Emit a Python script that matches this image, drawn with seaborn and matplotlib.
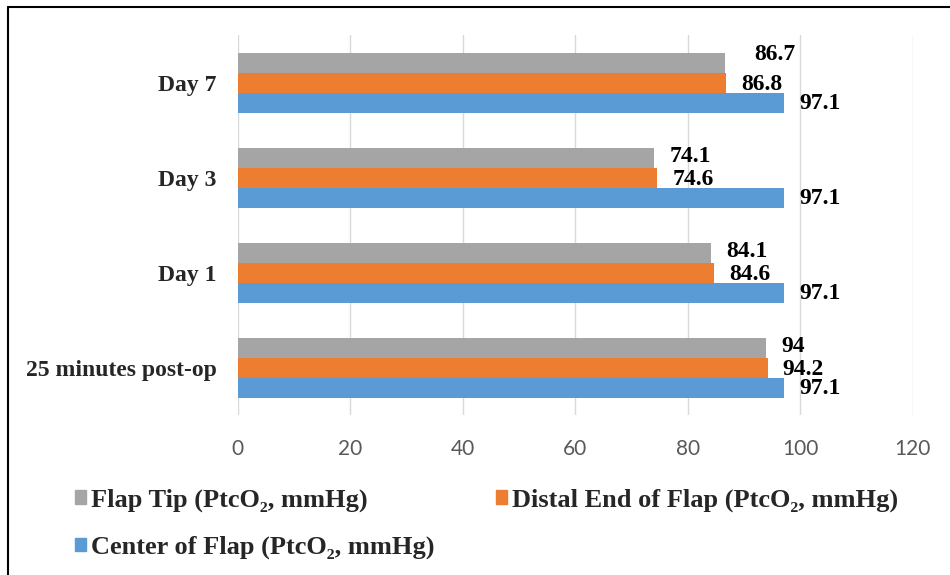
import pandas as pd
import seaborn as sns
import matplotlib.pyplot as plt
from matplotlib.patches import Patch
from matplotlib.lines import Line2D

# values
periods = ['Day 7', 'Day 3', 'Day 1', '25 minutes post-op']
series = ['Flap Tip (PtcO\u2082, mmHg)', 'Distal End of Flap (PtcO\u2082, mmHg)',
          'Center of Flap (PtcO\u2082, mmHg)']
flap_tip = [86.7, 74.1, 84.1, 94]
distal_end = [86.8, 74.6, 84.6, 94.2]
center = [97.1, 97.1, 97.1, 97.1]
colors = ['#A5A5A5', '#ED7D31', '#5B9BD5']
xticks = [0, 20, 40, 60, 80, 100, 120]

rows = []
for s, vals in zip(series, [flap_tip, distal_end, center]):
    for p, v in zip(periods, vals):
        rows.append({'period': p, 'series': s, 'value': v})
df = pd.DataFrame(rows)

sns.set_theme(style='white')
plt.rcParams['font.family'] = ['Liberation Serif', 'DejaVu Serif']

fig = plt.figure(figsize=(9.5, 5.75), dpi=100)
ax = fig.add_axes([0.2502, 0.278, 0.7105, 0.661])

sns.barplot(data=df, x='value', y='period', hue='series', order=periods,
            hue_order=series, palette=colors, orient='h', width=0.63,
            saturation=1, linewidth=0, legend=False, ax=ax)

ax.set_xlim(0, 120)
ax.set_xticks(xticks)
ax.set_xlabel('')
ax.set_ylabel('')
ax.grid(axis='x', color='#D9D9D9', linewidth=1)
ax.grid(axis='y', visible=False)
ax.set_axisbelow(True)
sns.despine(ax=ax, left=True, bottom=True)
ax.tick_params(axis='x', length=0, pad=17, labelsize=15, labelcolor='#595959')
ax.tick_params(axis='y', length=0, pad=15, labelsize=17)
for t in ax.get_xticklabels():
    t.set_family('Lato')
for t in ax.get_yticklabels():
    t.set_fontweight('bold')

# data labels (gray a bit up, orange a bit down so they sit apart)
shifts = [(11, 0.5), (11, -1.5), (11, -1)]
for i, cont in enumerate(ax.containers):
    for j, bar in enumerate(cont):
        v = bar.get_width()
        dx, dy = shifts[i]
        if i == 0 and j == 0:
            dx, dy = 21, 6
        ax.annotate(f'{v:g}', (v, bar.get_y() + bar.get_height() / 2),
                    xytext=(dx, dy), textcoords='offset points',
                    ha='left', va='center', fontsize=17, fontweight='bold',
                    color='black')

# legend: gray + blue in first column, orange in second
handles = [Patch(color=colors[0], label=series[0]),
           Patch(color=colors[2], label=series[2]),
           Patch(color=colors[1], label=series[1])]
fig.legend(handles=handles, loc='upper left', bbox_to_anchor=(0.079, 0.151),
           ncol=2, frameon=False, prop={'weight': 'bold', 'size': 19},
           handlelength=0.42, handleheight=0.42, handletextpad=0.2,
           labelspacing=0.92, columnspacing=2.3, borderpad=0, borderaxespad=0)

# outer frame (top and left edges)
fig.add_artist(Line2D([8 / 950, 8 / 950], [0, 1 - 7 / 575], color='black', linewidth=1.5))
fig.add_artist(Line2D([8 / 950, 1], [1 - 7 / 575, 1 - 7 / 575], color='black', linewidth=1.5))

fig.savefig('out.png', dpi=100)
